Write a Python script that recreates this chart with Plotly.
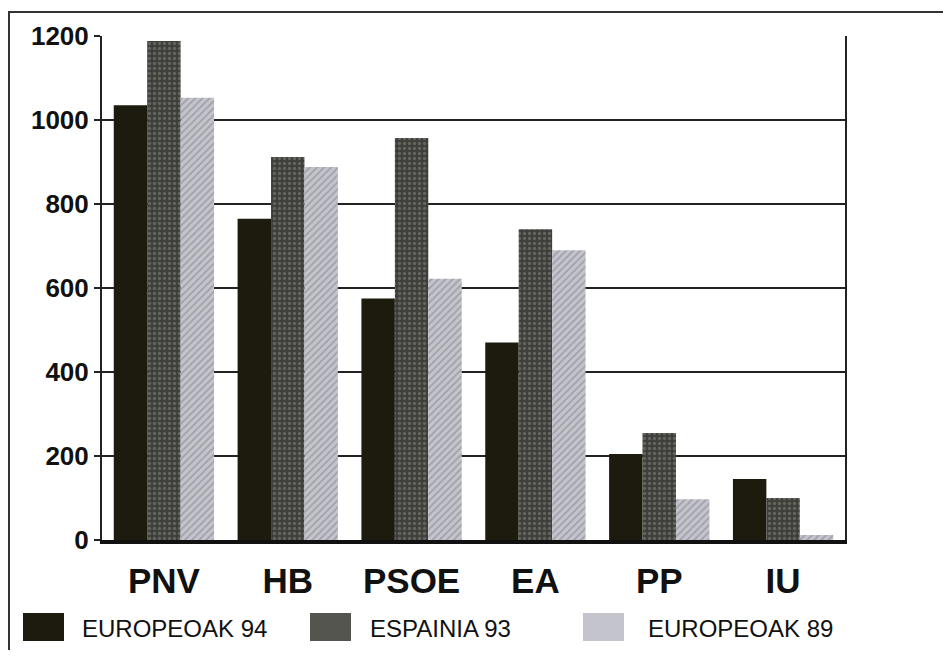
import plotly.graph_objects as go

categories = ["PNV", "HB", "PSOE", "EA", "PP", "IU"]
series_names = ["EUROPEOAK 94", "ESPAINIA 93", "EUROPEOAK 89"]
europeoak_94 = [1035, 765, 575, 470, 205, 145]
espainia_93 = [1188, 912, 957, 740, 255, 100]
europeoak_89 = [1053, 888, 622, 690, 97, 12]
y_ticks = [0, 200, 400, 600, 800, 1000, 1200]

values = [europeoak_94, espainia_93, europeoak_89]
base_colors = ["#1d1b0e", "#3e3e3a", "#c4c4cc"]
fg_colors = ["#1d1b0e", "#8a8a84", "#7e7e88"]
shapes_pat = ["", ".", "/"]

fig = go.Figure()
for name, vals, bc, fc, sh in zip(series_names, values, base_colors, fg_colors, shapes_pat):
    marker = dict(color=bc, line=dict(width=0))
    if sh:
        marker["pattern"] = dict(shape=sh, bgcolor=bc, fgcolor=fc, size=5, solidity=0.35, fillmode="overlay")
    fig.add_trace(go.Bar(x=categories, y=vals, name=name, marker=marker, showlegend=False))

# page body has an 8px margin, so work in reference coords minus 8
OFF = 8
W, H = 951 - 2 * OFF, 658 - 2 * OFF
L, R, T, B = 102 - OFF, 845 - OFF, 36 - OFF, 540 - OFF
pw, ph = R - L, B - T

def px(x):
    return (x - OFF - L) / pw

def py(y):
    return (B - (y - OFF)) / ph

shapes = []
annotations = []
# outer frame
shapes.append(dict(type="rect", xref="paper", yref="paper",
                   x0=px(9), x1=px(975), y0=py(655), y1=py(12),
                   line=dict(color="#333333", width=2), layer="below"))
# legend keys (manual, large squares)
leg_x = [23, 310, 583]
txt_x = [80, 368, 646]
for i, name in enumerate(series_names):
    shapes.append(dict(type="rect", xref="paper", yref="paper",
                       x0=px(leg_x[i]), x1=px(leg_x[i] + 41), y0=py(641), y1=py(613),
                       fillcolor=base_colors[i] if i != 1 else "#55554f",
                       line=dict(width=0)))
    annotations.append(dict(xref="paper", yref="paper", x=px(txt_x[i]), y=py(628),
                            text=name, showarrow=False, xanchor="left", yanchor="middle",
                            font=dict(family="Liberation Sans, Arial, sans-serif", size=24, color="#111111")))

fig.update_layout(
    width=W, height=H,
    margin=dict(l=L, r=W - R, t=T, b=H - B),
    paper_bgcolor="white", plot_bgcolor="white",
    barmode="group", bargap=0.19, bargroupgap=0.0,
    shapes=shapes, annotations=annotations,
    font=dict(family="Liberation Sans, Arial, sans-serif", color="#111111"),
)
fig.update_xaxes(
    showline=True, linecolor="#111111", linewidth=4,
    showgrid=False, ticks="",
    tickfont=dict(size=35, family="Liberation Sans, Arial, sans-serif", color="#111111", weight="bold"),
    ticklabelstandoff=7,
)
fig.update_yaxes(
    range=[0, 1200], tickvals=y_ticks,
    showgrid=True, gridcolor="#222222", gridwidth=2,
    showline=True, linecolor="#222222", linewidth=2, mirror=True,
    ticks="outside", ticklen=6, tickwidth=2, tickcolor="#222222",
    tickfont=dict(size=26, family="Liberation Sans, Arial, sans-serif", color="#111111", weight="bold"),
    zeroline=False,
)
fig.write_html("out.html")
